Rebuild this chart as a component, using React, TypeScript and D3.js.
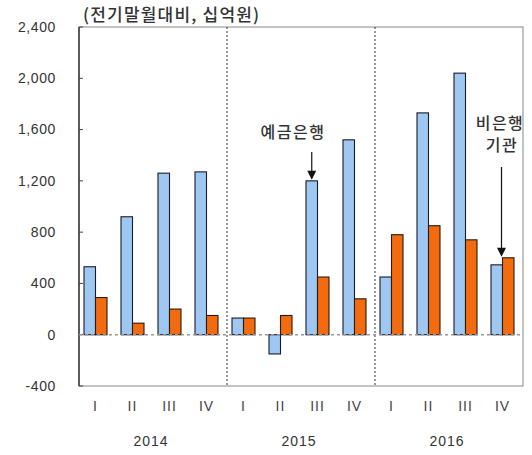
import React from "react";
import * as d3 from "d3";

const quarters = ["I", "II", "III", "IV", "I", "II", "III", "IV", "I", "II", "III", "IV"];
const years = ["2014", "2015", "2016"];
const depositBanks = [530, 920, 1260, 1270, 130, -150, 1200, 1520, 450, 1730, 2040, 545];
const nonBanks = [290, 90, 200, 150, 130, 150, 450, 280, 780, 850, 740, 600];
const yTicks = [-400, 0, 400, 800, 1200, 1600, 2000, 2400];
const title = "(전기말월대비, 십억원)";

const W = 532, H = 455;
const left = 79, right = 523, top = 27, bottom = 386;

function Arrow({ x, y1, y2 }: { x: number; y1: number; y2: number }) {
  return (
    <g>
      <line x1={x} x2={x} y1={y1} y2={y2 - 7} stroke="#111" strokeWidth={1.2} />
      <path d={`M${x - 4.5},${y2 - 9} L${x + 4.5},${y2 - 9} L${x},${y2} Z`} fill="#111" />
    </g>
  );
}

export default function App() {
  const y = d3.scaleLinear().domain([-400, 2400]).range([bottom, top]);
  const x = d3.scaleBand<number>().domain(d3.range(12)).range([left, left + 37 * 12]).paddingInner(0).paddingOuter(0);
  const bw = 11.5;
  const off = 16.5;
  const fmt = (v: number) => d3.format(",")(v).replace("\u2212", "-");
  const num = "'Liberation Sans', Arial, sans-serif";
  const kr = "'Noto Sans CJK KR', sans-serif";
  const cx = (i: number) => (x(i) as number) + off;
  const blockCenter = (b: number) => ((x(b * 4) as number) + (x(b * 4 + 3) as number) + x.bandwidth()) / 2;

  return (
    <svg width={W} height={H} style={{ position: "absolute", left: 0, top: 0, background: "#fff" }}>
      <text x={83} y={21} fontFamily={kr} fontSize={17} fontWeight={500} letterSpacing={1.2} fill="#333">{title}</text>
      {/* frame */}
      <rect x={left} y={top} width={right - left} height={bottom - top} fill="none" stroke="#888" strokeWidth={1} />
      <line x1={left} x2={left} y1={top} y2={bottom} stroke="#222" strokeWidth={1.3} />
      {/* dividers */}
      {[1, 2].map((b) => (
        <line key={b} x1={x(b * 4) as number} x2={x(b * 4) as number} y1={top} y2={bottom} stroke="#333" strokeWidth={1} strokeDasharray="2,2" />
      ))}
      {/* y ticks */}
      {yTicks.map((t) => (
        <g key={t}>
          <line x1={left} x2={left + 4} y1={y(t)} y2={y(t)} stroke="#444" />
          <text x={56} y={y(t)} dy="0.35em" textAnchor="end" fontFamily={num} fontSize={14} letterSpacing={0.6} fill="#333">{fmt(t)}</text>
        </g>
      ))}
      {/* bars */}
      {depositBanks.map((v, i) => (
        <rect key={"b" + i} x={cx(i) - bw} y={Math.min(y(v), y(0))} width={bw} height={Math.abs(y(v) - y(0))} fill="#9EC8F2" stroke="#1a1a2a" strokeWidth={1.1} />
      ))}
      {nonBanks.map((v, i) => (
        <rect key={"o" + i} x={cx(i)} y={Math.min(y(v), y(0))} width={bw} height={Math.abs(y(v) - y(0))} fill="#F26B0F" stroke="#2a1a10" strokeWidth={1.1} />
      ))}
      {/* zero line */}
      <line x1={left} x2={right} y1={y(0)} y2={y(0)} stroke="#999" strokeWidth={1.5} strokeDasharray="3,3" />
      {/* category labels */}
      {quarters.map((q, i) => (
        <text key={"q" + i} x={(x(i) as number) + x.bandwidth() / 2 - 2} y={411} textAnchor="middle" fontFamily={num} fontSize={14} letterSpacing={1} fill="#444">{q}</text>
      ))}
      {years.map((yr, b) => (
        <text key={yr} x={blockCenter(b) - 2} y={446} textAnchor="middle" fontFamily={num} fontSize={14} letterSpacing={1} fill="#333">{yr}</text>
      ))}
      {/* annotations */}
      <text x={293} y={138} textAnchor="middle" fontFamily={kr} fontSize={16} fontWeight={500} letterSpacing={1.5} fill="#333">예금은행</text>
      <Arrow x={cx(6) - bw / 2} y1={152} y2={y(depositBanks[6]) - 1} />
      <text x={500} y={129} textAnchor="middle" fontFamily={kr} fontSize={16} fontWeight={500} letterSpacing={1.5} fill="#333">비은행</text>
      <text x={502} y={151} textAnchor="middle" fontFamily={kr} fontSize={16} fontWeight={500} letterSpacing={1.5} fill="#333">기관</text>
      <Arrow x={cx(11) - 1} y1={167} y2={y(nonBanks[11]) - 1} />
    </svg>
  );
}
